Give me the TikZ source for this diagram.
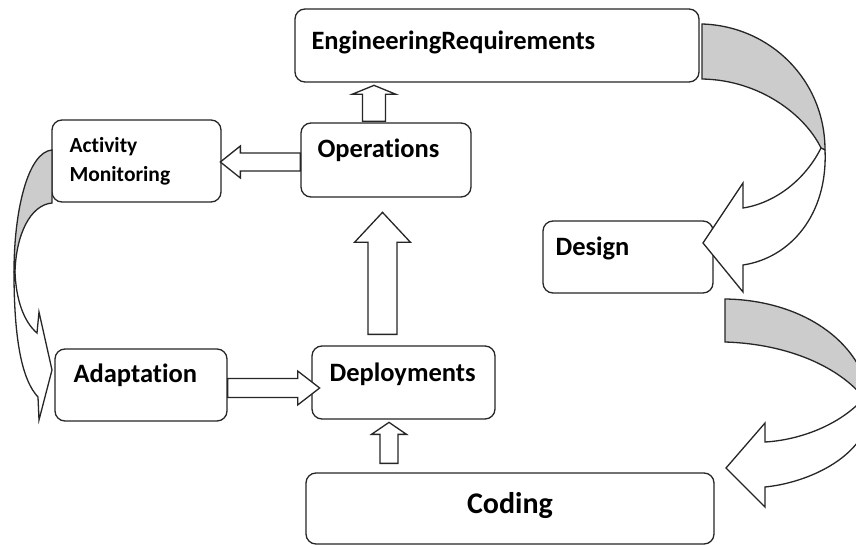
\documentclass[tikz,border=0pt]{standalone}
\usepackage{fontspec}
\setmainfont{Carlito}[RawFeature={-liga;-clig;-dlig;-calt}]
\usetikzlibrary{calc}

% outlined block arrow: start, angle, length, shaft half-width, head half-width, head length
\newcommand\blockarrow[6]{%
  \begin{scope}[shift={(#1)},rotate=#2]
    \draw[blk] (0,-#4) -- ({#3-#6},-#4) -- ({#3-#6},-#5) -- (#3,0)
      -- ({#3-#6},#5) -- ({#3-#6},#4) -- (0,#4) -- cycle;
  \end{scope}}

\begin{document}
\begin{tikzpicture}[x=1pt,y=-1pt,
  box/.style={draw=black!85, line width=1.3pt, rounded corners=10pt, fill=white, inner sep=0pt},
  lbl/.style={font=\bfseries\fontsize{26.5}{30}\selectfont, text=black, inner sep=0pt, anchor=base west},
  small/.style={lbl, font=\bfseries\fontsize{21.5}{26}\selectfont},
  big/.style={lbl, anchor=base, font=\bfseries\fontsize{30}{34}\selectfont},
  blk/.style={draw=black!85, line width=1.3pt, fill=white, line join=miter},
  band/.style={draw=black!85, line width=1.3pt, fill=gray!40, line join=miter},
  front/.style={draw=black!85, line width=1.3pt, fill=white, line join=miter}]

\useasboundingbox (0,0) rectangle (856,545);
\fill[white] (0,0) rectangle (856,545);
\clip (0,0) rectangle (856,545);

% process boxes
\node[box, minimum width=404pt, minimum height=73pt] (eng) at (497,45.5) {};
\node[box, minimum width=169pt, minimum height=82pt] (act) at (136.5,161) {};
\node[box, minimum width=170pt, minimum height=74pt] (ops) at (386,160) {};
\node[box, minimum width=170pt, minimum height=72pt] (des) at (628,257) {};
\node[box, minimum width=172pt, minimum height=72pt] (ada) at (141,385) {};
\node[box, minimum width=183pt, minimum height=73pt] (dep) at (403.5,382.5) {};
\node[box, minimum width=408pt, minimum height=71pt] (cod) at (510,508.5) {};

% labels
\node[lbl] (engt) at ($(eng.north west)+(17,41)$) {EngineeringRequirements};
\node[small] (actt1) at ($(act.north west)+(18,33)$) {Activity};
\node[small] (actt2) at ($(act.north west)+(18,62)$) {Monitoring};
\node[lbl] (opst) at ($(ops.north west)+(17,35)$) {Operations};
\node[lbl] (dest) at ($(des.north west)+(13,35)$) {Design};
\node[lbl] (adat) at ($(ada.north west)+(19,34)$) {Adaptation};
\node[lbl] (dept) at ($(dep.north west)+(18,36)$) {Deployments};
\node[big] (codt) at ($(cod.center)+(0,4.5)$) {Coding};

% straight block arrows
\coordinate (opsup) at ($(ops.north)+(-12,-1)$);
\coordinate (opsleft) at ($(ops.west)+(0,2)$);
\coordinate (depup) at ($(dep.north)+(-21,-11)$);
\coordinate (adaright) at ($(ada.east)+(0,3)$);
\coordinate (codup) at ($(cod.north)+(-121,-9)$);
\blockarrow{opsup}{90}{36}{11.5}{22}{9}
\blockarrow{opsleft}{180}{80}{9}{16}{20}
\blockarrow{depup}{90}{122}{14.5}{28}{30}
\blockarrow{adaright}{0}{92}{9.5}{17}{22}
\blockarrow{codup}{90}{41}{9}{17.5}{12}

% curved arrow: requirements to design
\draw[band] (702,24) .. controls (770,26) and (825,80) .. (825,150)
  -- (821,148) .. controls (805,115) and (760,80) .. (702,79) -- cycle;
\draw[front] (825,150) .. controls (828,215) and (790,258) .. (743,265)
  -- (743,292) -- (703,243) -- (743,183) -- (743,208)
  .. controls (775,203) and (805,180) .. (821,148) -- cycle;

% curved arrow: design to coding
\draw[band] (725,299) .. controls (800,300) and (862,340) .. (870,400)
  -- (864,398) .. controls (840,368) and (790,344) .. (725,342) -- cycle;
\draw[front] (870,400) .. controls (876,450) and (815,482) .. (765,487)
  -- (765,507) -- (726,468) -- (765,423) -- (765,442)
  .. controls (800,440) and (840,425) .. (864,398) -- cycle;

% curved arrow: activity monitoring to adaptation
\draw[band] (52,150) .. controls (28,152) and (14,210) .. (14,272)
  -- (15,272) .. controls (16,235) and (30,205) .. (52,203) -- cycle;
\draw[front] (14,272) .. controls (14,340) and (22,380) .. (38,397)
  -- (39,420) -- (52,370) -- (39,312) -- (37,333)
  .. controls (24,322) and (16,300) .. (15,272) -- cycle;

\end{tikzpicture}
\end{document}
